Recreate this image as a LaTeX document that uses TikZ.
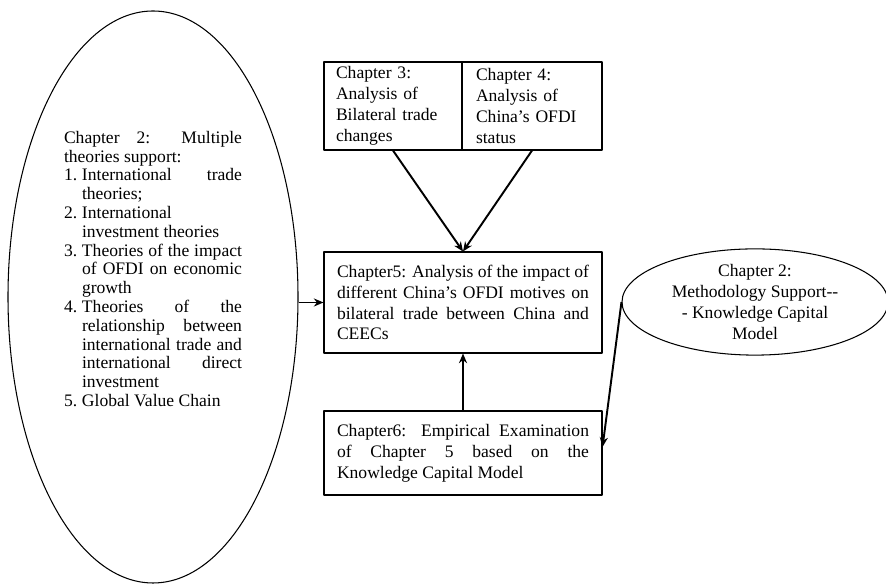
\documentclass[tikz,border=0pt]{standalone}
\usepackage{fontspec}
\setmainfont{Liberation Serif}
\usetikzlibrary{arrows.meta,shapes.geometric}
\tikzset{
  every picture/.style={line join=round, >={Stealth[length=5.5pt,width=4.6pt]}},
  chaptext/.style={font=\fontsize{10}{11.9}\selectfont},
  chapbox/.style={draw, line width=0.6pt, chaptext, inner ysep=0pt},
  chapoval/.style={draw, ellipse, line width=0.6pt, chaptext, inner sep=0pt},
  link/.style={->, line width=1.1pt},
}
\newcommand{\theoryitem}[1]{\par\hangindent=0.36cm\hangafter=1\makebox[0.36cm][l]{#1}\ignorespaces}

\begin{document}
\begin{tikzpicture}
\useasboundingbox (0,0) rectangle (17.72,11.70);
% theories on the left
\node[chapoval, minimum width=5.80cm, minimum height=11.44cm] (theory) at (3.06,5.76) {};
\node[font=\fontsize{10}{10.7}\selectfont, text width=3.56cm, align=justify, inner sep=0pt] (theorytxt) at (3.06,6.32)
  {\parindent=0pt\hyphenpenalty=10000
   Chapter 2: Multiple\linebreak theories support:
   \theoryitem{1.}International trade\linebreak theories;
   \theoryitem{2.}International\newline investment theories
   \theoryitem{3.}Theories of the impact\linebreak of OFDI on economic\linebreak growth
   \theoryitem{4.}Theories of the\linebreak relationship between\linebreak international trade and\linebreak international direct\linebreak investment
   \theoryitem{5.}Global Value Chain};
% chapters 3 and 4
\node[chapbox, text width=2.28cm, inner xsep=0.24cm, minimum height=1.76cm, align=left] (ch3) at (7.86,9.58)
  {Chapter 3:\\ Analysis of\\ Bilateral trade\\ changes};
\node[chapbox, text width=2.24cm, inner xsep=0.28cm, minimum height=1.76cm, align=left] (ch4) at (10.64,9.58)
  {Chapter 4:\\ Analysis of\\ China’s OFDI\\ status};
% chapters 5 and 6
\node[chapbox, text width=5.04cm, inner xsep=0.26cm, minimum height=2.02cm, align=justify] (ch5) at (9.26,5.65)
  {\hyphenpenalty=10000 Chapter5: Analysis of the impact of\linebreak different China’s OFDI motives on\linebreak bilateral trade between China and\linebreak CEECs};
\node[chapbox, text width=5.04cm, inner xsep=0.26cm, minimum height=1.68cm, align=justify] (ch6) at (9.26,2.64)
  {\hyphenpenalty=10000 Chapter6: Empirical Examination\linebreak of Chapter 5 based on the\linebreak Knowledge Capital Model};
% methodology
\node[chapoval, minimum width=5.32cm, minimum height=2.0cm, align=center] (method) at (15.10,5.66)
  {Chapter 2:\\ Methodology Support-\kern0pt-\\ -\kern0pt~Knowledge Capital\\ Model};
% arrows
\draw[link] (ch3.south) -- (ch5.north);
\draw[link] (ch4.south) -- (ch5.north);
\draw[link] (ch6.north) -- (ch5.south);
\draw[link] (ch5.west -| theory.east) -- (ch5.west);
\draw[link] (method.west) -- ([yshift=1.2mm]ch6.east);
\end{tikzpicture}
\end{document}
